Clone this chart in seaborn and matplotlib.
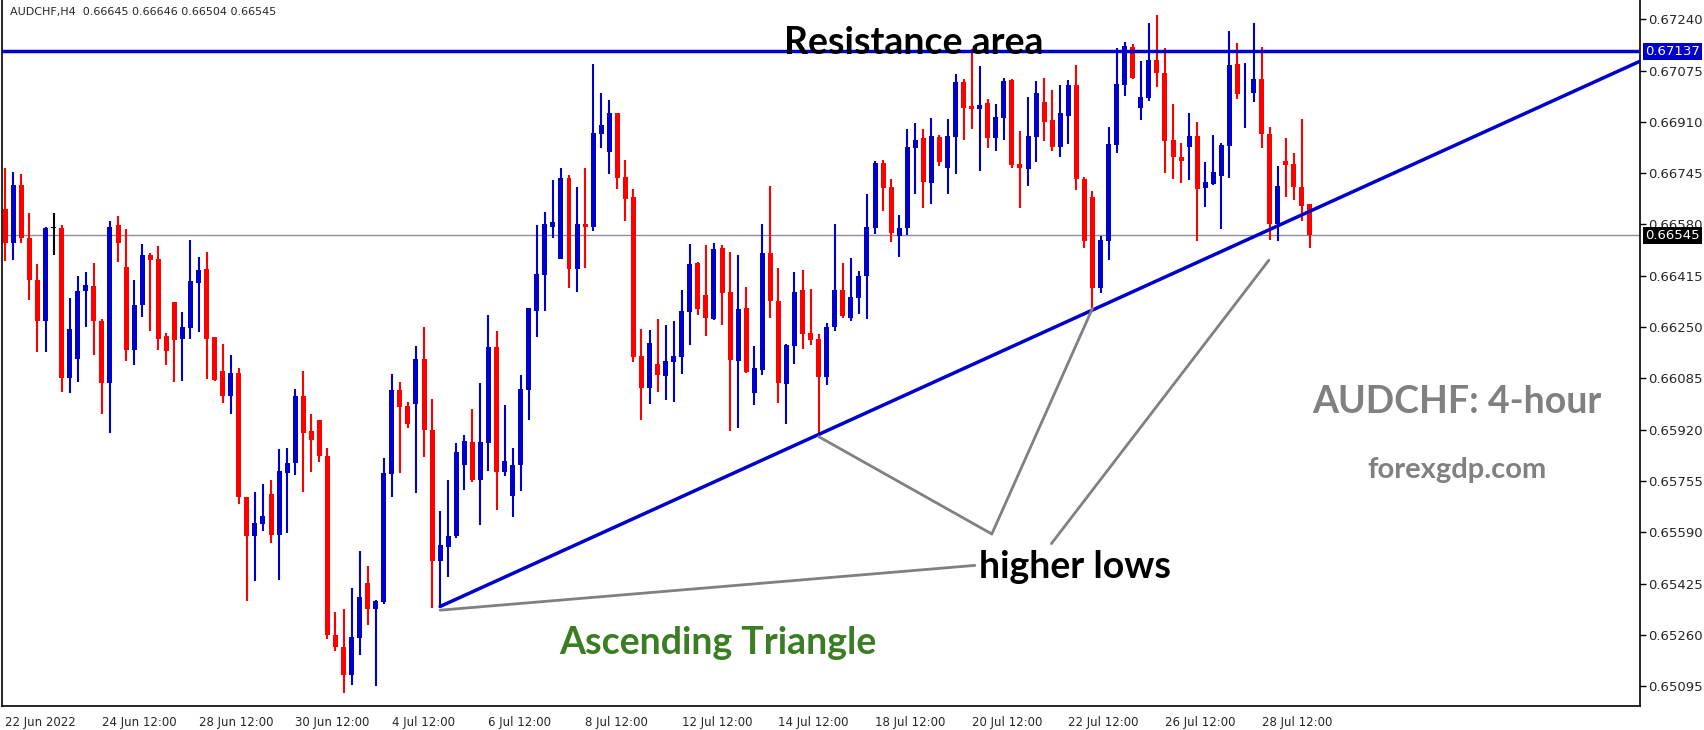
import matplotlib
matplotlib.use("Agg")
import matplotlib.pyplot as plt
import numpy as np
import seaborn as sns

# AUDCHF H4 candles
opens = [.66630, .66520, .66707, .66537, .66403, .66270, .66570, .66570, .66087, .66147,
         .66367, .66383, .66270, .66070, .66577, .66443, .66177, .66320, .66483, .66470,
         .66220, .66330, .66213, .66247, .66393, .66437, .66217, .66110, .66030, .66103,
         .65703, .65577, .65617, .65713, .65583, .65780, .65813, .66030, .65917, .65950,
         .65837, .65260, .65223, .65133, .65250, .65427, .65343, .65367, .65777, .66047,
         .65997, .66003, .66147, .65920, .65497, .65543, .65577, .65807, .65880, .65760,
         .65877, .66187, .65783, .65707, .65807, .66047, .66303, .66417, .66573, .66470,
         .66730, .66437, .66583, .66573, .66870, .66813, .66937, .66733, .66667, .66157,
         .66053, .66130, .66093, .66137, .66153, .66300, .66457, .66353, .66277, .66503,
         .66363, .66140, .66310, .66037, .66113, .66487, .66333, .66067, .66190, .66370,
         .66230, .66213, .66090, .66250, .66370, .66280, .66343, .66413, .66570, .66777,
         .66700, .66543, .66570, .66827, .66857, .66713, .66860, .66763, .66860, .67037,
         .66960, .66950, .66970, .66857, .66923, .67043, .66773, .66757, .66860, .66973,
         .66917, .66830, .66930, .67027, .66727, .66667, .66377, .66527, .66837, .67030,
         .67150, .66953, .66987, .67110, .67067, .66850, .66797, .66830, .66863, .66697,
         .66710, .66737, .66833, .67097, .67003, .67003, .67047, .66870, .66583, .66783,
         .66773, .66700, .66645]
closes = [.66520, .66707, .66537, .66403, .66270, .66570, .66570, .66087, .66243, .66367,
          .66387, .66270, .66070, .66573, .66520, .66177, .66320, .66483, .66467, .66213,
          .66173, .66210, .66250, .66397, .66433, .66213, .66080, .66030, .66103, .65703,
          .65577, .65620, .65643, .65583, .65787, .65813, .66027, .65910, .65887, .65837,
          .65260, .65223, .65133, .65253, .65383, .65343, .65370, .65780, .66047, .65993,
          .65940, .66147, .65920, .65497, .65550, .65577, .65847, .65883, .65760, .65880,
          .66187, .65783, .65820, .65807, .66050, .66313, .66420, .66580, .66587, .66730,
          .66437, .66583, .66573, .66873, .66900, .66937, .66730, .66663, .66153, .66053,
          .66200, .66097, .66140, .66157, .66303, .66453, .66307, .66280, .66500, .66360,
          .66143, .66307, .66107, .66117, .66487, .66333, .66070, .66193, .66363, .66227,
          .66210, .66090, .66250, .66370, .66287, .66347, .66413, .66573, .66777, .66697,
          .66553, .66570, .66830, .66853, .66717, .66863, .66780, .66863, .67037, .66953,
          .66950, .66963, .66857, .66927, .67040, .66770, .66760, .66863, .67003, .66910,
          .66830, .66937, .67030, .66727, .66527, .66377, .66530, .66840, .67033, .67153,
          .67050, .66990, .67110, .67067, .66847, .66797, .66783, .66863, .66693, .66717,
          .66750, .66837, .67093, .67000, .67004, .67047, .66870, .66583, .66703, .66770,
          .66700, .66640, .66545]
highs = [.66760, .66750, .66743, .66617, .66453, .66573, .66617, .66577, .66343, .66413,
         .66427, .66457, .66277, .66590, .66607, .66567, .66400, .66517, .66487, .66510,
         .66230, .66330, .66300, .66530, .66477, .66493, .66217, .66197, .66160, .66120,
         .65703, .65720, .65747, .65757, .65857, .65863, .66050, .66110, .65970, .65950,
         .65863, .65333, .65343, .65410, .65530, .65483, .65373, .65830, .66100, .66073,
         .66010, .66190, .66250, .66020, .65660, .65757, .65877, .65903, .65987, .66070,
         .66290, .66237, .66000, .65863, .66097, .66313, .66577, .66620, .66723, .66760,
         .66740, .66700, .66763, .67097, .67003, .66980, .66940, .66787, .66693, .66243,
         .66240, .66277, .66257, .66270, .66370, .66517, .66460, .66513, .66520, .66513,
         .66493, .66483, .66380, .66190, .66580, .66703, .66440, .66197, .66427, .66433,
         .66373, .66227, .66263, .66583, .66457, .66473, .66430, .66677, .66783, .66787,
         .66727, .66610, .66887, .66907, .66887, .66923, .66867, .66920, .67063, .67047,
         .67143, .67090, .66983, .66967, .67050, .67047, .66880, .66990, .67040, .67050,
         .67013, .67027, .67043, .67093, .66733, .66687, .66543, .66893, .67147, .67167,
         .67160, .67107, .67227, .67253, .67147, .66967, .66843, .66937, .66910, .66780,
         .66867, .66843, .67203, .67163, .67100, .67227, .67150, .66893, .66767, .66857,
         .66810, .66920, .66646]
lows = [.66463, .66467, .66520, .66337, .66170, .66170, .66483, .66043, .66037, .66073,
        .66250, .66160, .65970, .65910, .66460, .66140, .66127, .66283, .66237, .66177,
        .66127, .66073, .66077, .66213, .66233, .66083, .66077, .66007, .65970, .65680,
        .65370, .65433, .65593, .65557, .65437, .65587, .65773, .65720, .65783, .65817,
        .65247, .65210, .65073, .65100, .65197, .65293, .65097, .65360, .65703, .65780,
        .65927, .65717, .65833, .65347, .65347, .65447, .65573, .65727, .65753, .65613,
        .65787, .65663, .65770, .65640, .65723, .65953, .66217, .66303, .66537, .66470,
        .66377, .66363, .66440, .66560, .66827, .66743, .66693, .66590, .66137, .65953,
        .66003, .66043, .66017, .66010, .66100, .66193, .66290, .66220, .66273, .66257,
        .65917, .65927, .66103, .66000, .66097, .66280, .66007, .65937, .66130, .66180,
        .66193, .65897, .66063, .66237, .66280, .66270, .66293, .66277, .66550, .66623,
        .66523, .66477, .66547, .66677, .66633, .66647, .66767, .66677, .66743, .66850,
        .66887, .66753, .66827, .66817, .66850, .66760, .66633, .66703, .66780, .66847,
        .66817, .66797, .66840, .66690, .66503, .66310, .66360, .66467, .66810, .66993,
        .67047, .66917, .66977, .67023, .66747, .66727, .66713, .66723, .66527, .66637,
        .66707, .66567, .66730, .66983, .66890, .66973, .66827, .66530, .66527, .66667,
        .66660, .66590, .66504]

x_labels = ["22 Jun 2022", "24 Jun 12:00", "28 Jun 12:00", "30 Jun 12:00", "4 Jul 12:00",
            "6 Jul 12:00", "8 Jul 12:00", "12 Jul 12:00", "14 Jul 12:00", "18 Jul 12:00",
            "20 Jul 12:00", "22 Jul 12:00", "26 Jul 12:00", "28 Jul 12:00"]
y_ticks = [0.67240, 0.67075, 0.66910, 0.66745, 0.66580, 0.66415, 0.66250,
           0.66085, 0.65920, 0.65755, 0.65590, 0.65425, 0.65260, 0.65095]
resistance = 0.67137
last_price = 0.66545
trend = ([54, 203], [0.65352, 0.67105])
# "higher lows" pointer lines: (x0, y0, x1, y1)
pointers = [(54, 0.65340, 120.4, 0.65484),
            (101, 0.65898, 122.5, 0.65585),
            (135, 0.66310, 122.5, 0.65585),
            (156.9, 0.66465, 129.9, 0.65554)]

sns.set_theme(style="white")
plt.rcParams['font.family'] = ['DejaVu Sans']

o = np.array(opens); c = np.array(closes)
h = np.maximum(np.array(highs), np.maximum(o, c))
l = np.minimum(np.array(lows), np.minimum(o, c))
x = np.arange(len(o))
up = c > o
down = c < o
flat = c == o

fig = plt.figure(figsize=(17.04, 7.30), dpi=100)
ax = fig.add_axes([0.0012, 0.0329, 0.9613, 0.9945])
ax.set_facecolor("white")

blue = "#0000CD"
red = "#FF0000"
cols = np.where(up, blue, np.where(down, red, "black"))
ax.vlines(x, l, h, colors=cols, linewidth=1.5, zorder=3)
body = np.maximum(np.abs(c - o), 0.00001)
ax.bar(x, body, bottom=np.minimum(o, c), width=0.62, color=cols, linewidth=0, zorder=4)

ax.axhline(last_price, color="#8a8f99", linewidth=1, zorder=2)
ax.axhline(resistance, color=blue, linewidth=2.5, zorder=5)
ax.plot(trend[0], trend[1], color=blue, linewidth=2.5, zorder=5)
for x0, y0, x1, y1 in pointers:
    ax.plot([x0, x1], [y0, y1], color="#808080", linewidth=2, zorder=5)

ax.set_xlim(-0.4, 203)
ax.set_ylim(0.65032, 0.67366)
ax.yaxis.tick_right()
ax.set_yticks(y_ticks)
ax.set_yticklabels([f"{v:.5f}" for v in y_ticks], fontsize=9.5)
ax.set_xticks(np.arange(len(x_labels)) * 12)
ax.set_xticklabels(x_labels, fontsize=8.5, ha="left")
ax.tick_params(axis="both", direction="out", length=4, width=1, color="black", pad=2)
ax.tick_params(axis="x", pad=3)
for s in ax.spines.values():
    s.set_color("black")
    s.set_linewidth(1.2)

box = dict(boxstyle="square,pad=0.15", linewidth=0)
ax.text(1.003, resistance, f"{resistance:.5f}", transform=ax.get_yaxis_transform(),
        va="center", ha="left", fontsize=9.5, color="white", bbox=dict(box, facecolor=blue))
ax.text(1.003, last_price, f"{last_price:.5f}", transform=ax.get_yaxis_transform(),
        va="center", ha="left", fontsize=9.5, color="white", bbox=dict(box, facecolor="black"))

fig.text(0.006, 0.983, "AUDCHF,H4  0.66645 0.66646 0.66504 0.66545", fontsize=8, va="center")
big = dict(family=["Lato", "DejaVu Sans"], weight="bold", ha="center", va="center")
fig.text(0.536, 0.941, "Resistance area", fontsize=27, color="black", **big)
fig.text(0.855, 0.449, "AUDCHF: 4-hour", fontsize=27, color="#808080", **big)
fig.text(0.855, 0.356, "forexgdp.com", fontsize=21, color="#808080", **big)
fig.text(0.631, 0.223, "higher lows", fontsize=27, color="black", **big)
fig.text(0.421, 0.119, "Ascending Triangle", fontsize=27, color="#3a7d22", **big)

fig.savefig("out.png", dpi=100)
